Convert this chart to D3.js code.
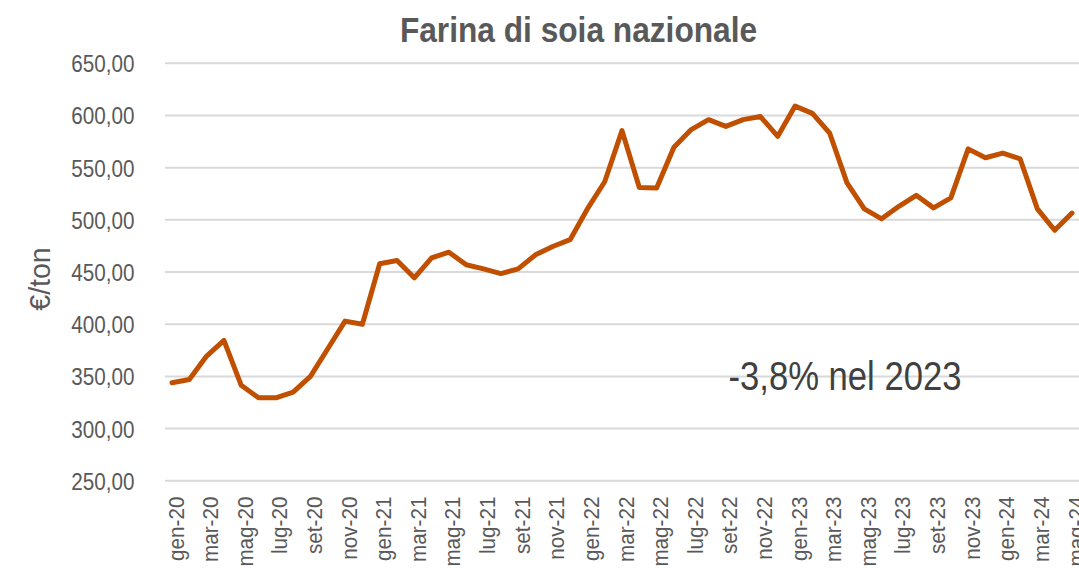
<!DOCTYPE html>
<html><head><meta charset="utf-8">
<script src="https://cdn.jsdelivr.net/npm/d3@7"></script>
<style>
html,body{margin:0;padding:0;background:#fff;}
svg{display:block;}
</style></head>
<body>
<svg id="c" width="1079" height="568"></svg>
<script>
const categories = [
 "gen-20","feb-20","mar-20","apr-20","mag-20","giu-20","lug-20","ago-20","set-20","ott-20","nov-20","dic-20",
 "gen-21","feb-21","mar-21","apr-21","mag-21","giu-21","lug-21","ago-21","set-21","ott-21","nov-21","dic-21",
 "gen-22","feb-22","mar-22","apr-22","mag-22","giu-22","lug-22","ago-22","set-22","ott-22","nov-22","dic-22",
 "gen-23","feb-23","mar-23","apr-23","mag-23","giu-23","lug-23","ago-23","set-23","ott-23","nov-23","dic-23",
 "gen-24","feb-24","mar-24","apr-24","mag-24"];
const values = [
 344,347,369.5,384.5,341.5,329.5,329.5,335,350,376.5,403,400,
 458,461,444.5,463.5,469,457,453,448.5,453,466.5,474.5,481,
 510.5,536.5,585.5,531,530.5,569.5,586.5,596,589.5,596,599,580,
 609,602,583,535.5,510.5,501,513,523.5,511.5,521,568,559.5,
 564,558.5,510.5,490,506.5];
const yTicks = [250,300,350,400,450,500,550,600,650];
const title = "Farina di soia nazionale";
const yTitle = "€/ton";
const note = "-3,8% nel 2023";

const FONT = "'Liberation Sans',Arial,sans-serif";
const svg = d3.select("#c");
const x = d3.scaleLinear().domain([0, categories.length-1]).range([172, 1072]);
const y = d3.scaleLinear().domain([250, 650]).range([480.8, 63.3]);

// gridlines
svg.append("g").selectAll("line").data(yTicks).join("line")
  .attr("x1",165).attr("x2",1079)
  .attr("y1",d=>y(d)).attr("y2",d=>y(d))
  .attr("stroke","#d9d9d9").attr("stroke-width",2);

// y axis labels
const fmt = d => d3.format(".2f")(d).replace(".", ",");
const yAxis = svg.append("g").attr("transform","translate(134.5,0)")
  .call(d3.axisLeft(y).tickValues(yTicks).tickFormat(fmt).tickSize(0).tickPadding(0));
yAxis.select(".domain").remove();
yAxis.selectAll("text").attr("x",0).attr("dy","0.36em")
  .attr("transform","scale(0.88,1)")
  .attr("font-family",FONT).attr("font-size",23.5).attr("fill","#595959");

// x axis labels
const xAxis = svg.append("g").attr("transform","translate(0,496.5)")
  .call(d3.axisBottom(x).tickValues(d3.range(0,categories.length,2)).tickFormat(i=>categories[i]).tickSize(0).tickPadding(0));
xAxis.select(".domain").remove();
xAxis.selectAll("text")
  .attr("font-family",FONT).attr("font-size",22).attr("fill","#595959")
  .attr("text-anchor","end").attr("transform","rotate(-90) scale(0.94,1)")
  .attr("x",0).attr("y",0).attr("dx",0).attr("dy","0.5em");

// line
svg.append("path").datum(values)
  .attr("fill","none").attr("stroke","#c05000").attr("stroke-width",5)
  .attr("stroke-linejoin","round").attr("stroke-linecap","round")
  .attr("d", d3.line().x((d,i)=>x(i)).y(d=>y(d)));

// title
svg.append("text").attr("transform","translate(578.5,41.7) scale(0.88,1)").attr("text-anchor","middle")
  .attr("font-family",FONT).attr("font-weight","bold").attr("font-size",36).attr("fill","#595959")
  .text(title);

// y title
svg.append("text").attr("transform","translate(50,279) rotate(-90) scale(0.95,1)").attr("text-anchor","middle")
  .attr("font-family",FONT).attr("font-size",30).attr("fill","#595959").text(yTitle);

// annotation
svg.append("text").attr("transform","translate(845,390) scale(0.845,1)").attr("text-anchor","middle")
  .attr("font-family",FONT).attr("font-size",41).attr("fill","#404040").text(note);
</script>
</body></html>
